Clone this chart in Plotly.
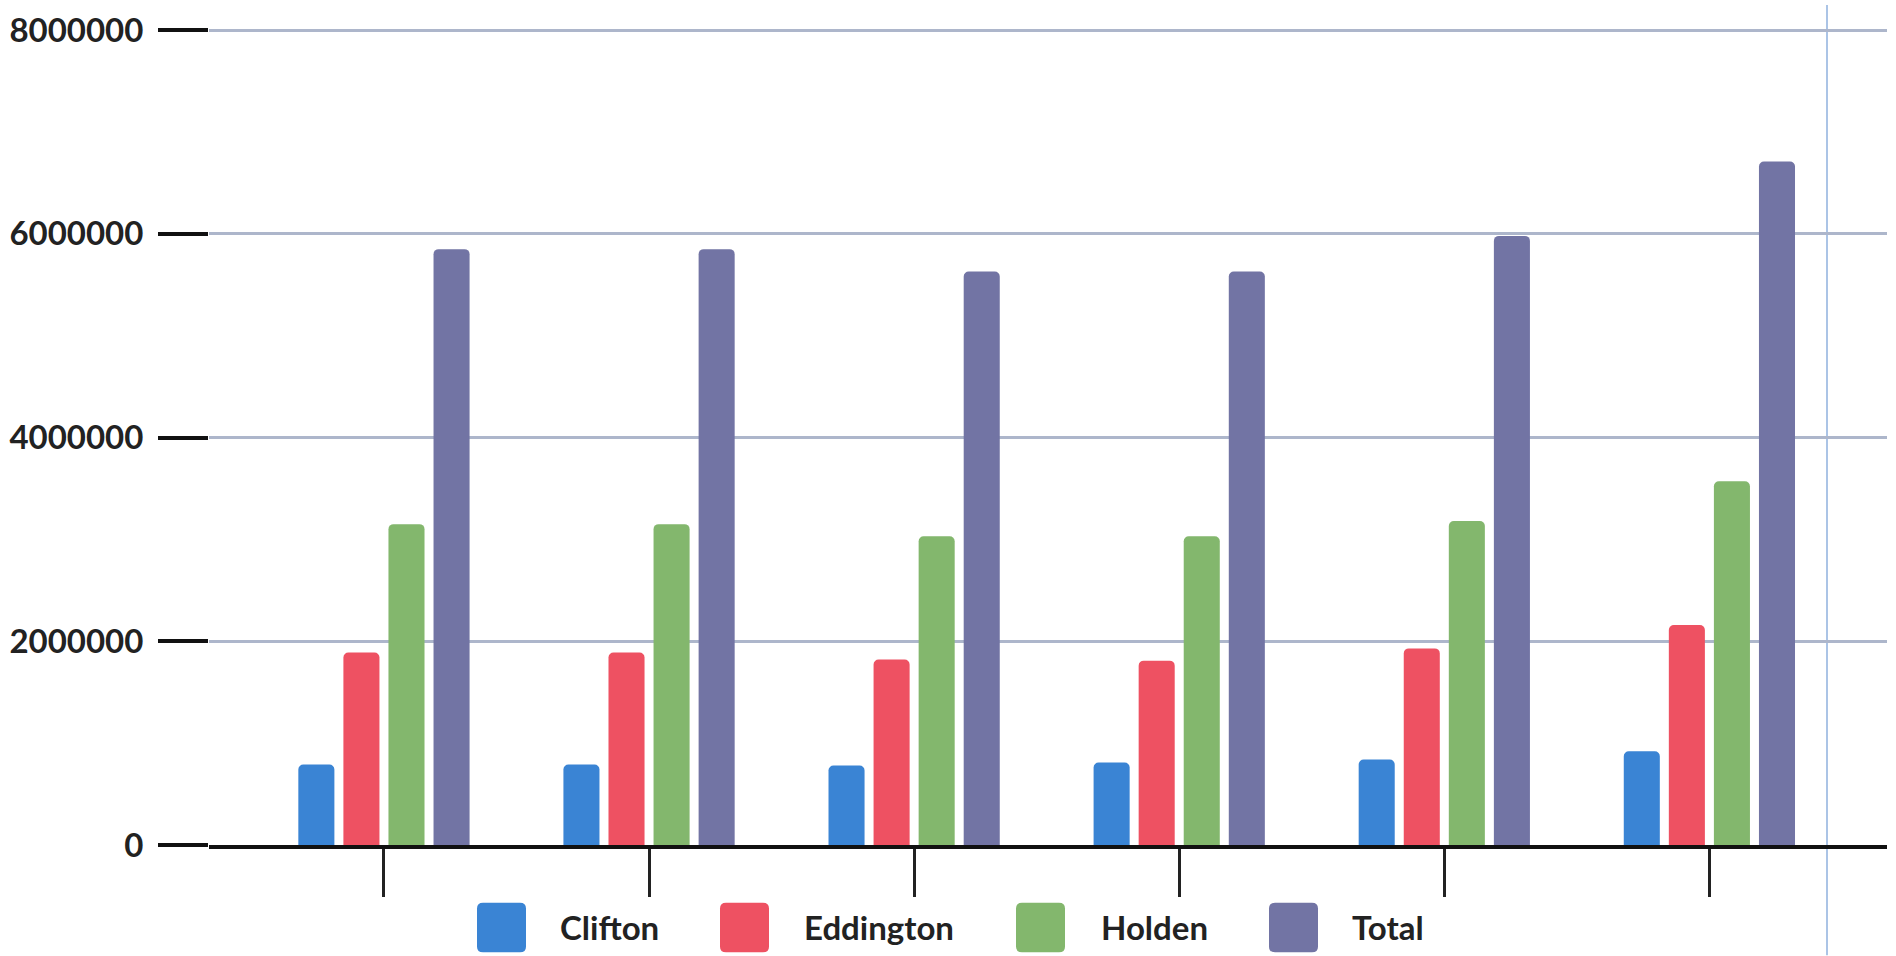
import plotly.graph_objects as go

# ---- data ----
categories = ["1", "2", "3", "4", "5", "6"]
series_names = ["Clifton", "Eddington", "Holden", "Total"]
clifton = [790000, 790000, 780000, 810000, 840000, 920000]
eddington = [1890000, 1890000, 1820000, 1810000, 1930000, 2160000]
holden = [3150000, 3150000, 3030000, 3030000, 3180000, 3570000]
total = [5850000, 5850000, 5630000, 5630000, 5980000, 6710000]
y_tick_values = [0, 2000000, 4000000, 6000000, 8000000]
y_tick_labels = ["0", "2000000", "4000000", "6000000", "8000000"]

colors = ["#3A84D4", "#EE5162", "#83B76D", "#7274A4"]
series_values = [clifton, eddington, holden, total]

W, H = 1896, 956
ML, MR, MT, MB = 209, 9, 18, 111
PW, PH = W - ML - MR, H - MT - MB
FONT = "Lato"

fig = go.Figure()
for name, vals, col in zip(series_names, series_values, colors):
    fig.add_trace(go.Bar(
        name=name, x=categories, y=vals,
        marker=dict(color=col, line=dict(width=0), cornerradius=5),
        showlegend=False,
    ))


def px_x(p):
    return (p - ML) / PW


def px_y(p):
    return (H - MB - p) / PH


shapes = []
annotations = []

# custom legend with large rounded squares
legend_square_left = [477, 720, 1016, 1269]
legend_text_left = [558, 802, 1099, 1350]
sq_w, sq_h, r = 49, 50, 6
sq_top = 903
for name, col, sx, tx in zip(series_names, colors, legend_square_left, legend_text_left):
    x0, x1 = sx, sx + sq_w
    y0, y1 = sq_top, sq_top + sq_h
    pts = [
        (x0 + r, y0), (x1 - r, y0), ("Q", x1, y0, x1, y0 + r), (x1, y1 - r),
        ("Q", x1, y1, x1 - r, y1), (x0 + r, y1), ("Q", x0, y1, x0, y1 - r),
        (x0, y0 + r), ("Q", x0, y0, x0 + r, y0),
    ]
    path = ""
    for i, p in enumerate(pts):
        if p[0] == "Q":
            path += f" Q{px_x(p[1])},{px_y(p[2])} {px_x(p[3])},{px_y(p[4])}"
        else:
            path += (" M" if i == 0 else " L") + f"{px_x(p[0])},{px_y(p[1])}"
    path += " Z"
    shapes.append(dict(type="path", xref="paper", yref="paper", path=path,
                       fillcolor=col, line=dict(width=0), layer="above"))
    annotations.append(dict(
        text=f"<b>{name}</b>", xref="paper", yref="paper",
        x=px_x(tx), y=px_y(sq_top + sq_h / 2), xanchor="left", yanchor="middle",
        showarrow=False, font=dict(family=FONT, size=33, color="#222222"),
    ))

# thin light-blue vertical page line at the right
shapes.append(dict(type="line", xref="paper", yref="paper",
                   x0=px_x(1827), x1=px_x(1827), y0=px_y(H), y1=px_y(0),
                   line=dict(color="#8FB0DE", width=1.5), layer="below"))

fig.update_layout(
    width=W, height=H, autosize=False,
    margin=dict(l=ML, r=MR, t=MT, b=MB, pad=0),
    paper_bgcolor="white", plot_bgcolor="white",
    barmode="group", bargap=0.32, bargroupgap=0.2,
    font=dict(family=FONT, color="#222222"),
    shapes=shapes, annotations=annotations,
    showlegend=False,
)
fig.update_xaxes(
    type="category", range=[-0.66, 5.67],
    showticklabels=False, showgrid=False, zeroline=False,
    showline=True, linecolor="#111111", linewidth=4,
    ticks="outside", ticklen=48, tickwidth=3, tickcolor="#222222",
)
fig.update_yaxes(
    range=[0, 8070000], tickvals=y_tick_values, ticktext=y_tick_labels,
    showgrid=True, gridcolor="#ADB6CB", gridwidth=2.5,
    zeroline=False, showline=False,
    ticks="outside", ticklen=50, tickwidth=4, tickcolor="#111111",
    ticklabelstandoff=8,
    tickfont=dict(family=FONT, size=33, color="#222222", weight="bold"),
)

fig.write_html(
    "out.html",
    config={"displayModeBar": False},
    post_script="document.body.style.margin='0';document.body.style.overflow='hidden';",
)
